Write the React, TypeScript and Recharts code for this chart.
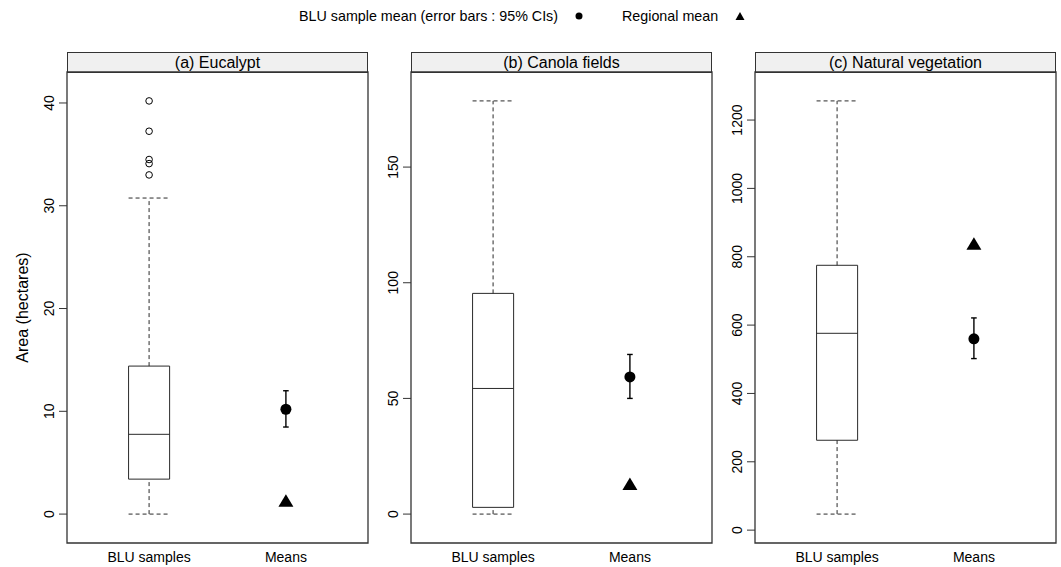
import React from 'react';
import {
  ComposedChart,
  XAxis,
  YAxis,
  Scatter,
  ErrorBar,
  ReferenceArea,
  ReferenceLine,
} from 'recharts';

const categories = ['BLU samples', 'Means'];
const panelTitles = ['(a) Eucalypt', '(b) Canola fields', '(c) Natural vegetation'];
const whiskerLow = [0, 0, 47];
const q1 = [3.4, 2.9, 263];
const median = [7.76, 54.3, 576];
const q3 = [14.4, 95.4, 775];
const whiskerHigh = [30.75, 178.6, 1256];
const outliers = [[40.2, 37.25, 34.5, 34.1, 33.0], [], []];
const sampleMean = [10.2, 59.3, 560];
const ciLow = [8.47, 50.0, 502];
const ciHigh = [12.0, 69.0, 621];
const regionalMean = [1.3, 13.0, 838];
const yTicks = [
  [0, 10, 20, 30, 40],
  [0, 50, 100, 150],
  [0, 200, 400, 600, 800, 1000, 1200],
];

const FONT = '"Liberation Sans", Arial, Helvetica, sans-serif';
const PLOT_TOP = 72;
const PLOT_BOTTOM = 543;
const CHART_H = 567;
const X_AXIS_H = CHART_H - PLOT_BOTTOM;
const panelLeft = [67, 411, 755];
const plotW = 301;
const yAxisW = [67, 41, 41];
const BOX_HALF = 0.15;

function domainFor(i: number): [number, number] {
  const vals = [
    whiskerLow[i],
    whiskerHigh[i],
    ...outliers[i],
    ciLow[i],
    ciHigh[i],
    regionalMean[i],
  ];
  const lo = Math.min(...vals);
  const hi = Math.max(...vals);
  const pad = (hi - lo) * 0.07;
  return [lo - pad, hi + pad];
}

const YTick = (props: any) => {
  const { x, y, payload } = props;
  const cx = x - 8;
  return (
    <text
      x={cx}
      y={y}
      transform={`rotate(-90, ${cx}, ${y})`}
      textAnchor="middle"
      dominantBaseline="central"
      fontSize={14}
      fontFamily={FONT}
      fill="#000"
    >
      {payload.value}
    </text>
  );
};

const XTick = (props: any) => {
  const { x, y, payload } = props;
  return (
    <text
      x={x}
      y={y + 14}
      textAnchor="middle"
      dominantBaseline="central"
      fontSize={14}
      fontFamily={FONT}
      fill="#000"
    >
      {categories[payload.value - 1]}
    </text>
  );
};

const Triangle = (props: any) => {
  const { cx, cy } = props;
  return (
    <polygon
      points={`${cx - 7.5},${cy + 6} ${cx + 7.5},${cy + 6} ${cx},${cy - 6.5}`}
      fill="#000"
    />
  );
};

const Dot = (props: any) => <circle cx={props.cx} cy={props.cy} r={5.5} fill="#000" />;
const OpenDot = (props: any) => (
  <circle cx={props.cx} cy={props.cy} r={3.3} fill="none" stroke="#000" strokeWidth={1} />
);

function Panel({ i }: { i: number }) {
  const dom = domainFor(i);
  const chartLeft = panelLeft[i] - yAxisW[i];
  const width = yAxisW[i] + plotW + 4;
  const meanData = [
    { x: 2, y: sampleMean[i], err: [sampleMean[i] - ciLow[i], ciHigh[i] - sampleMean[i]] },
  ];
  const regData = [{ x: 2, y: regionalMean[i] }];
  const outData = outliers[i].map((v) => ({ x: 1, y: v }));
  const lineCol = '#2a2a2a';
  return (
    <>
      <div
        style={{
          position: 'absolute',
          left: panelLeft[i],
          top: 52,
          width: plotW - 2,
          height: 19,
          border: '1px solid #333',
          background: '#f0f0f0',
          fontFamily: FONT,
          fontSize: 16,
          lineHeight: '19px',
          textAlign: 'center',
          color: '#000',
        }}
      >
        {panelTitles[i]}
      </div>
      <div style={{ position: 'absolute', left: chartLeft, top: 0 }}>
        <ComposedChart
          width={width}
          height={CHART_H}
          margin={{ top: PLOT_TOP, right: width - yAxisW[i] - plotW, bottom: 0, left: 0 }}
        >
          <XAxis
            type="number"
            dataKey="x"
            domain={[0.4, 2.6]}
            ticks={[1, 2]}
            allowDataOverflow
            axisLine={false}
            tickLine={false}
            tickSize={0}
            tickMargin={0}
            height={X_AXIS_H}
            tick={<XTick />}
          />
          <YAxis
            type="number"
            dataKey="y"
            domain={dom}
            ticks={yTicks[i]}
            allowDataOverflow
            axisLine={false}
            tickSize={8}
            tickMargin={2}
            tickLine={{ stroke: '#333' }}
            width={yAxisW[i]}
            tick={<YTick />}
            label={
              i === 0
                ? () => {
                    const lx = 22;
                    const ly = PLOT_TOP + (PLOT_BOTTOM - PLOT_TOP) / 2;
                    return (
                      <text
                        x={lx}
                        y={ly}
                        transform={`rotate(-90, ${lx}, ${ly})`}
                        textAnchor="middle"
                        dominantBaseline="central"
                        fontSize={16}
                        fontFamily={FONT}
                        fill="#000"
                      >
                        Area (hectares)
                      </text>
                    );
                  }
                : undefined
            }
          />
          <ReferenceArea
            x1={0.4}
            x2={2.6}
            y1={dom[0]}
            y2={dom[1]}
            fill="none"
            stroke="#333"
            strokeWidth={1.3}
            ifOverflow="visible"
          />
          <ReferenceArea
            x1={1 - BOX_HALF}
            x2={1 + BOX_HALF}
            y1={q1[i]}
            y2={q3[i]}
            fill="#fff"
            fillOpacity={1}
            stroke={lineCol}
            strokeWidth={1}
          />
          <ReferenceLine
            segment={[
              { x: 1 - BOX_HALF, y: median[i] },
              { x: 1 + BOX_HALF, y: median[i] },
            ]}
            stroke={lineCol}
            strokeWidth={1}
          />
          <ReferenceLine
            segment={[
              { x: 1, y: q3[i] },
              { x: 1, y: whiskerHigh[i] },
            ]}
            stroke={lineCol}
            strokeDasharray="4 3"
          />
          <ReferenceLine
            segment={[
              { x: 1, y: whiskerLow[i] },
              { x: 1, y: q1[i] },
            ]}
            stroke={lineCol}
            strokeDasharray="4 3"
          />
          <ReferenceLine
            segment={[
              { x: 1 - BOX_HALF, y: whiskerHigh[i] },
              { x: 1 + BOX_HALF, y: whiskerHigh[i] },
            ]}
            stroke={lineCol}
            strokeDasharray="4 3"
          />
          <ReferenceLine
            segment={[
              { x: 1 - BOX_HALF, y: whiskerLow[i] },
              { x: 1 + BOX_HALF, y: whiskerLow[i] },
            ]}
            stroke={lineCol}
            strokeDasharray="4 3"
          />
          {outData.length > 0 && (
            <Scatter data={outData} shape={<OpenDot />} isAnimationActive={false} />
          )}
          <Scatter data={meanData} shape={<Dot />} isAnimationActive={false}>
            <ErrorBar
              dataKey="err"
              direction="y"
              width={2.8}
              stroke="#000"
              strokeWidth={1.4}
              isAnimationActive={false}
            />
          </Scatter>
          <Scatter data={regData} shape={<Triangle />} isAnimationActive={false} />
        </ComposedChart>
      </div>
    </>
  );
}

export default function App() {
  return (
    <div
      style={{
        position: 'absolute',
        left: 0,
        top: 0,
        width: 1061,
        height: 567,
        background: '#fff',
        overflow: 'hidden',
      }}
    >
      <svg width={1061} height={40} style={{ position: 'absolute', left: 0, top: 0 }}>
        <text x={299} y={21} fontSize={14.3} fontFamily={FONT} fill="#000">
          BLU sample mean (error bars : 95% CIs)
        </text>
        <circle cx={579} cy={16} r={3.5} fill="#000" />
        <text x={622} y={21} fontSize={14.3} fontFamily={FONT} fill="#000">
          Regional mean
        </text>
        <polygon points="735.5,20 744.5,20 740,12" fill="#000" />
      </svg>
      {[0, 1, 2].map((i) => (
        <Panel key={i} i={i} />
      ))}
    </div>
  );
}
